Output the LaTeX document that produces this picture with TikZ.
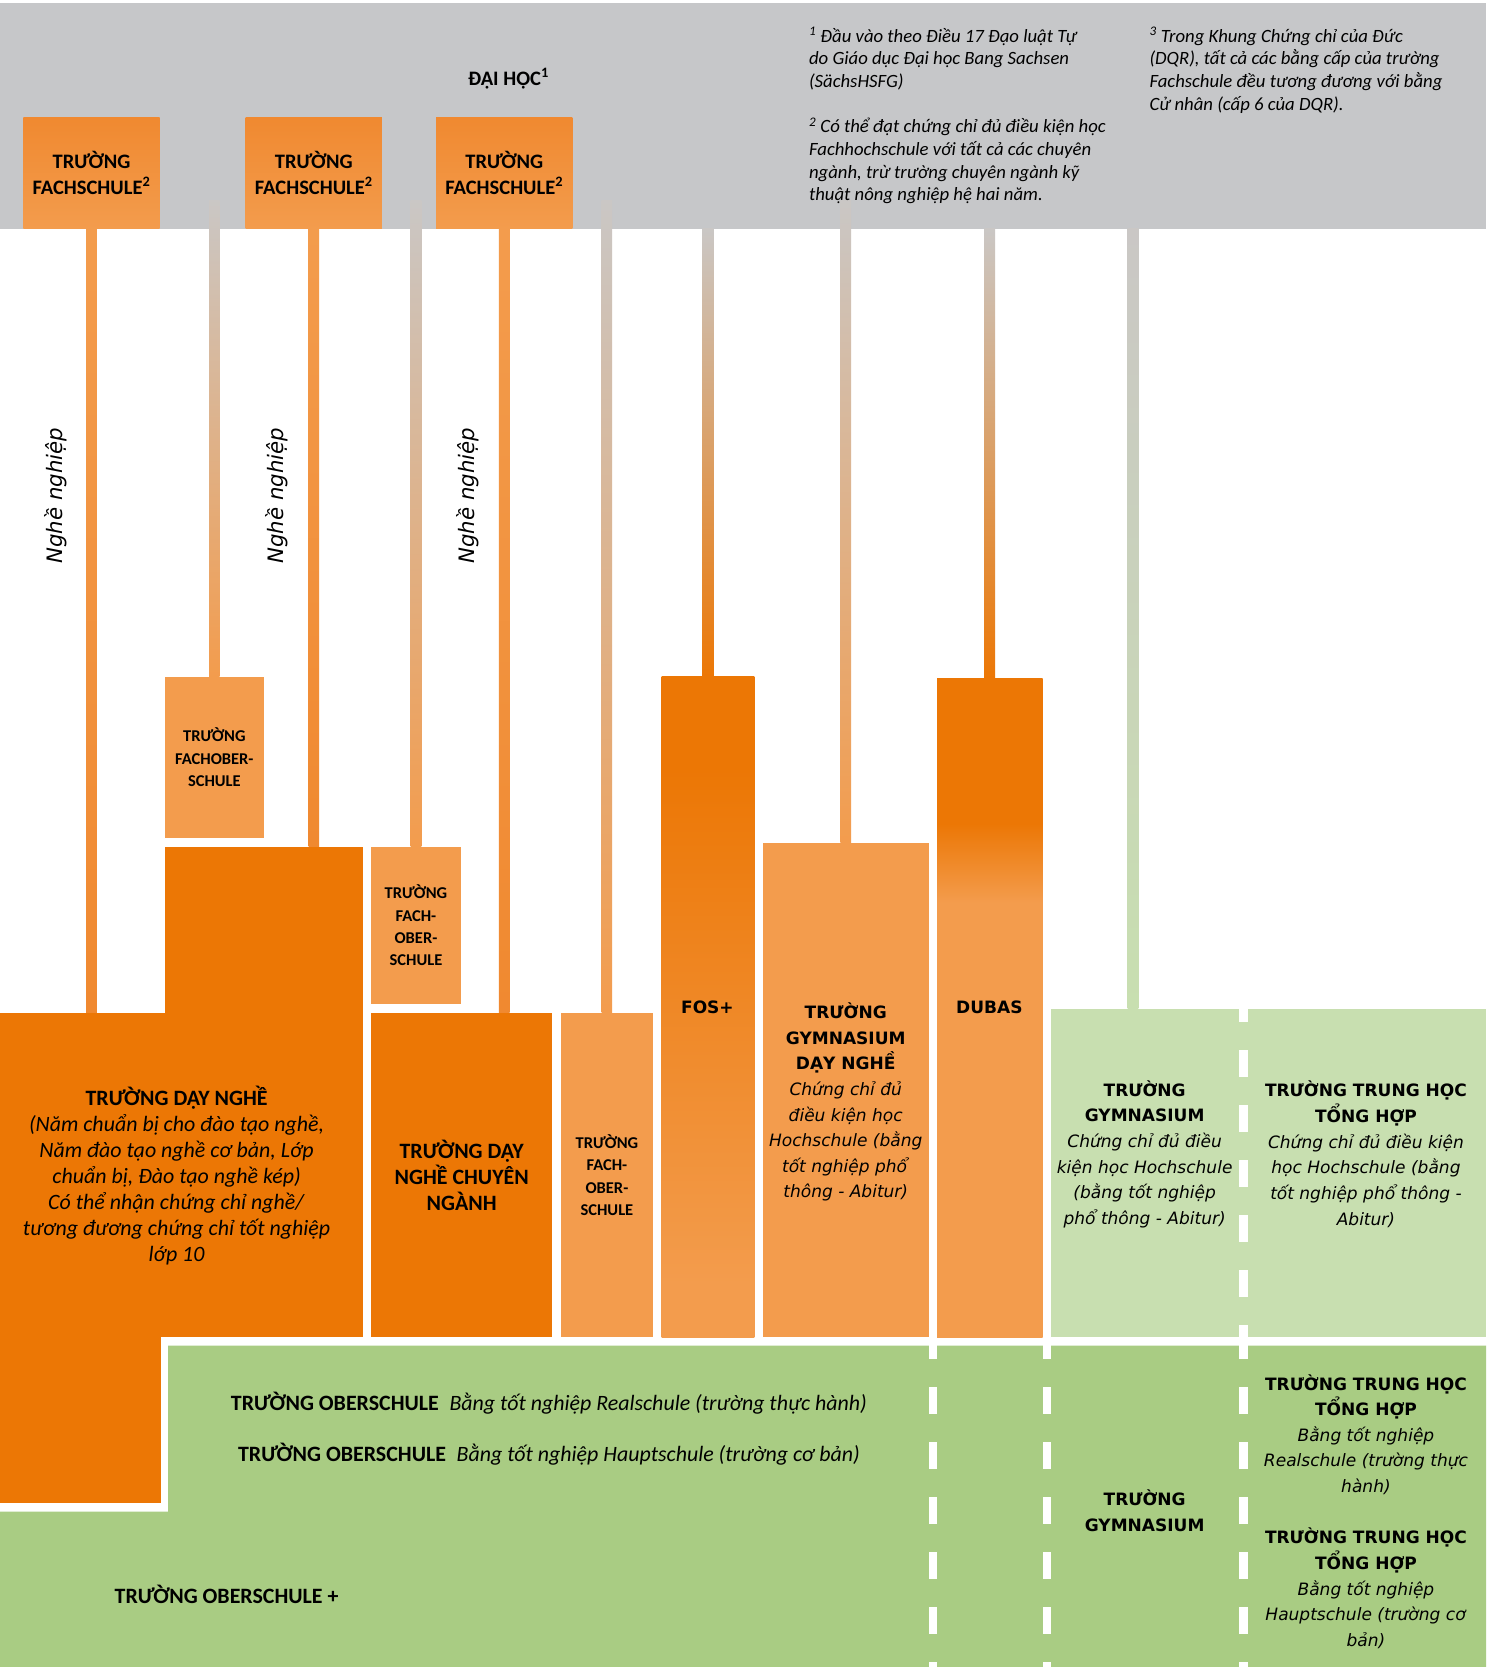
\documentclass[tikz,border=0pt]{standalone}
\usepackage{fontspec}
\setmainfont{Carlito}
\newfontfamily\wide{DejaVu Sans}
\usepackage{tikz}
\usetikzlibrary{positioning,calc}
\pgfdeclarelayer{back}
\pgfdeclarelayer{bg}
\pgfsetlayers{back,bg,main}

\definecolor{band}{RGB}{198,199,201}
\definecolor{lor}{RGB}{243,156,77}
\definecolor{mor}{RGB}{240,137,48}
\definecolor{dor}{RGB}{236,119,5}
\definecolor{lgray}{RGB}{202,199,197}
\definecolor{lgreen}{RGB}{200,223,176}
\definecolor{dgreen}{RGB}{169,204,131}
\pgfdeclareverticalshading{fosshade}{100bp}{color(0bp)=(lor); color(29bp)=(lor); color(68bp)=(dor); color(100bp)=(dor)}
\pgfdeclareverticalshading{dubasshade}{100bp}{color(0bp)=(lor); color(58bp)=(lor); color(64bp)=(dor); color(100bp)=(dor)}

% vertical bar from one node to the next
\newcommand{\conn}[4]{\shade[top color=#3, bottom color=#4] ($(#1)+(-5,0)$) rectangle ($(#2)+(5,0)$);}

\begin{document}
\begin{tikzpicture}[x=1pt, y=-1pt,
    box/.style={rectangle, inner sep=0pt, outer sep=0pt, align=center},
    fsbox/.style={box, minimum width=128pt, minimum height=105pt, top color=mor, bottom color=lor},
    hd/.style={align=center, font=\fontsize{19.3}{24}\selectfont\bfseries},
    sm/.style={align=center, font=\fontsize{15.5}{21}\selectfont\bfseries},
    big/.style={align=center, font=\fontsize{20.6}{24.3}\selectfont},
    bigb/.style={align=center, font=\fontsize{20.6}{24.4}\selectfont\bfseries},
    wd/.style={align=center, font=\wide\fontsize{16}{24.1}\selectfont},
    wdb/.style={align=center, font=\wide\fontsize{16}{24.1}\selectfont\bfseries},
    note/.style={align=left, anchor=west, font=\fontsize{17.6}{21.3}\selectfont\itshape},
    nn/.style={rotate=90, font=\wide\fontsize{20}{24}\selectfont\itshape},
    wdash/.style={white, line width=8pt, dash pattern=on 25pt off 26.7pt}]

  \useasboundingbox (0,0) rectangle (1401.5,1567);
  \begin{pgfonlayer}{back}
    \fill[white] (0,0) rectangle (1401.5,1567);
    \fill[band] (0,3) rectangle (1397,215);
  \end{pgfonlayer}
  \coordinate (gtop) at (0,188);
  \coordinate (gbot) at (0,215);

  % top
  \node[hd] (uni) at (478,74) {ĐẠI HỌC\textsuperscript{1}};
  \node[note] (fn1) at (757,108.5) {\textsuperscript{1} Đầu vào theo Điều 17 Đạo luật Tự\\do Giáo dục Đại học Bang Sachsen\\(SächsHSFG)\\[21.3pt]\textsuperscript{2} Có thể đạt chứng chỉ đủ điều kiện học\\Fachhochschule với tất cả các chuyên\\ngành, trừ trường chuyên ngành kỹ\\thuật nông nghiệp hệ hai năm.};
  \node[note] (fn3) at (1077,66) {\textsuperscript{3} Trong Khung Chứng chỉ của Đức\\(DQR), tất cả các bằng cấp của trường\\Fachschule đều tương đương với bằng\\Cử nhân (cấp 6 của DQR).};

  \node[fsbox, hd] (fs1) at (86,162.5) {TRƯỜNG\\FACHSCHULE\textsuperscript{2}};
  \node[fsbox, hd] (fs2) at (295,162.5) {TRƯỜNG\\FACHSCHULE\textsuperscript{2}};
  \node[fsbox, hd] (fs3) at (474,162.5) {TRƯỜNG\\FACHSCHULE\textsuperscript{2}};

  % orange blocks
  \node[box, fill=lor, minimum width=93pt, minimum height=152pt, sm] (fo1) at (201.5,712) {TRƯỜNG\\FACHOBER-\\SCHULE};
  \node[box, fill=dor, minimum width=186pt, minimum height=156pt] (dnup) at (248,874) {};
  \node[box, fill=dor, minimum width=341pt, minimum height=305pt] (dn) at (170.5,1104.5) {};
  \node[box, fill=dor, minimum width=151pt, minimum height=156pt] (dnlow) at (75.5,1335) {};
  \node[big] (dnT) at (166,1105) {\textbf{TRƯỜNG DẠY NGHỀ}\\\textit{(Năm chuẩn bị cho đào tạo nghề,}\\\textit{Năm đào tạo nghề cơ bản, Lớp}\\\textit{chuẩn bị, Đào tạo nghề kép)}\\\textit{Có thể nhận chứng chỉ nghề/}\\\textit{tương đương chứng chỉ tốt nghiệp}\\\textit{lớp 10}};
  \node[box, fill=lor, minimum width=84pt, minimum height=148pt, sm] (fo2) at (391,870) {TRƯỜNG\\FACH-\\OBER-\\SCHULE};
  \node[box, fill=dor, minimum width=170pt, minimum height=305pt, bigb] (dncn) at (434,1104.5) {TRƯỜNG DẠY\\NGHỀ CHUYÊN\\NGÀNH};
  \node[box, fill=lor, minimum width=87pt, minimum height=305pt, sm] (fo3) at (570.5,1104.5) {TRƯỜNG\\FACH-\\OBER-\\SCHULE};
  \node[box, shading=fosshade, minimum width=87pt, minimum height=621pt] (fos) at (665.5,946.5) {};
  \node[wdb] (fosT) at (665,947) {FOS+};
  \node[box, fill=lor, minimum width=156pt, minimum height=465pt] (gdn) at (795,1024.5) {};
  \node[wd] (gdnT) at (795,1036) {\textbf{TRƯỜNG}\\\textbf{GYMNASIUM}\\\textbf{DẠY NGHỀ}\\\textit{Chứng chỉ đủ}\\\textit{điều kiện học}\\\textit{Hochschule (bằng}\\\textit{tốt nghiệp phổ}\\\textit{thông - Abitur)}};
  \node[box, shading=dubasshade, minimum width=99pt, minimum height=619pt] (dubas) at (930.5,947.5) {};
  \node[wdb] (dubasT) at (930,947) {DUBAS};

  % green blocks
  \node[box, fill=lgreen, minimum width=409pt, minimum height=309pt] (gymL) at (1192.5,1102.5) {};
  \draw[wdash, dash phase=12.7pt] (1169,948) -- (1169,1257);
  \node[wd] (gymT) at (1076,1085) {\textbf{TRƯỜNG}\\\textbf{GYMNASIUM}\\\textit{Chứng chỉ đủ điều}\\\textit{kiện học Hochschule}\\\textit{(bằng tốt nghiệp}\\\textit{phổ thông - Abitur)}};
  \node[wd] (thT) at (1284,1085) {\textbf{TRƯỜNG TRUNG HỌC}\\\textbf{TỔNG HỢP}\\\textit{Chứng chỉ đủ điều kiện}\\\textit{học Hochschule (bằng}\\\textit{tốt nghiệp phổ thông -}\\\textit{Abitur)}};

  \fill[dgreen] (158,1265) -- (1397,1265) -- (1397,1567) -- (0,1567) -- (0,1421) -- (158,1421) -- cycle;
  \foreach \x in {877,984,1169}
    \draw[wdash, dash phase=8.7pt] (\x,1261) -- (\x,1567);
  \node[big] (ob1) at (516,1319) {\textbf{TRƯỜNG OBERSCHULE}\hspace{10pt}\textit{Bằng tốt nghiệp Realschule (trường thực hành)}};
  \node[big] (ob2) at (516,1367) {\textbf{TRƯỜNG OBERSCHULE}\hspace{10pt}\textit{Bằng tốt nghiệp Hauptschule (trường cơ bản)}};
  \node[bigb] (obp) at (213,1499) {TRƯỜNG OBERSCHULE +};
  \node[wdb] (gymD) at (1076,1420) {TRƯỜNG\\GYMNASIUM};
  \node[wd] (th1) at (1284,1348.5) {\textbf{TRƯỜNG TRUNG HỌC}\\\textbf{TỔNG HỢP}\\\textit{Bằng tốt nghiệp}\\\textit{Realschule (trường thực}\\\textit{hành)}};
  \node[wd] (th2) at (1284,1493) {\textbf{TRƯỜNG TRUNG HỌC}\\\textbf{TỔNG HỢP}\\\textit{Bằng tốt nghiệp}\\\textit{Hauptschule (trường cơ}\\\textit{bản)}};

  \node[nn] (nn1) at (52,466) {Nghề nghiệp};
  \node[nn] (nn2) at (260,466) {Nghề nghiệp};
  \node[nn] (nn3) at (440,466) {Nghề nghiệp};

  % connectors
  \begin{pgfonlayer}{bg}
    \conn{fs1.south}{fs1.south |- dn.north}{lor}{mor}
    \conn{fo1.north |- gtop}{fo1.north}{lgray}{lor}
    \conn{fs2.south}{fs2.south |- dnup.north}{lor}{mor}
    \conn{fo2.north |- gtop}{fo2.north}{lgray}{lor}
    \conn{fs3.south}{fs3.south |- dncn.north}{lor}{mor}
    \conn{fo3.north |- gtop}{fo3.north}{lgray}{lor}
    \conn{fos.north |- gbot}{fos.north}{lgray}{dor}
    \conn{gdn.north |- gtop}{gdn.north}{lgray}{lor}
    \conn{dubas.north |- gbot}{dubas.north}{lgray}{dor}
    \coordinate (g10) at (1065,215);
    \conn{g10}{g10 |- gymL.north}{lgray}{lgreen}
  \end{pgfonlayer}
\end{tikzpicture}
\end{document}
